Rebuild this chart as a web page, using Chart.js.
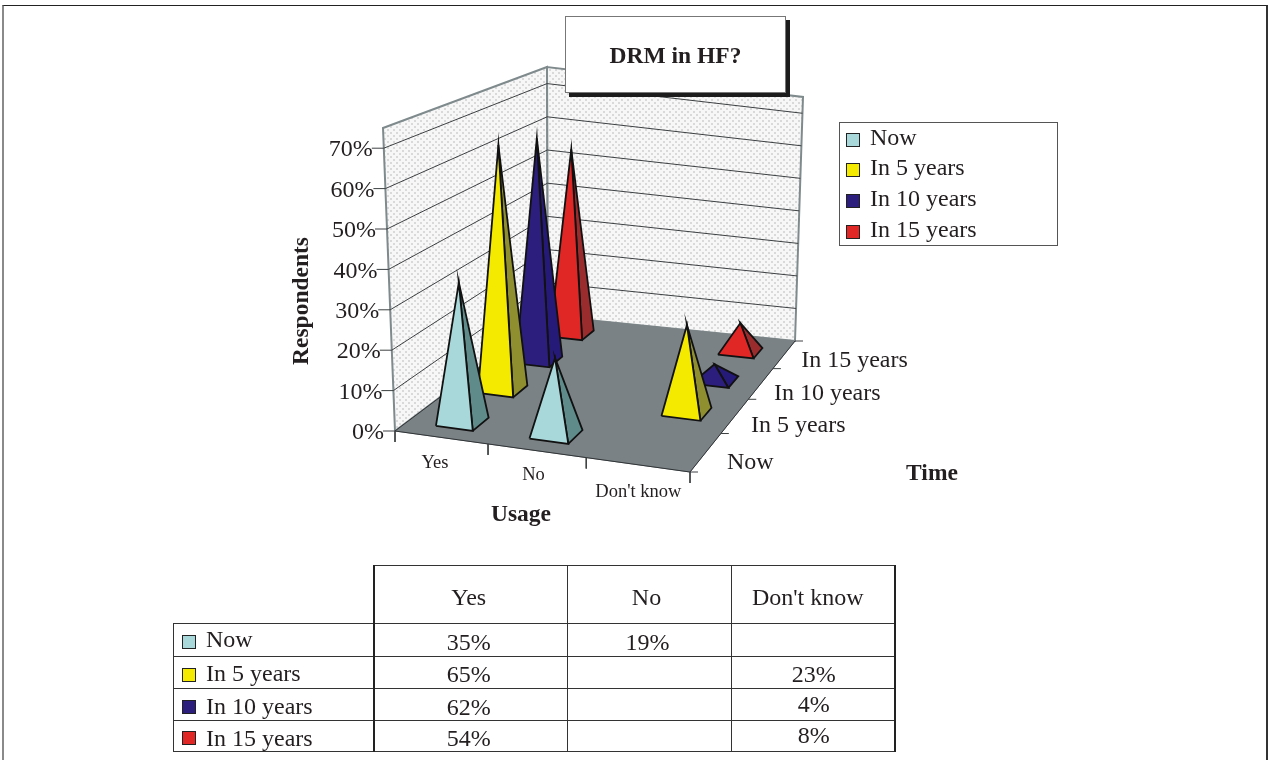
<!DOCTYPE html>
<html>
<head>
<meta charset="utf-8">
<title>DRM in HF?</title>
<script src="https://cdn.jsdelivr.net/npm/chart.js@4"></script>
<style>
html, body { margin: 0; padding: 0; background: #fff; overflow: hidden; }
body { width: 1269px; height: 760px; position: relative; font-family: "Liberation Serif", serif; color: #231f20; }
#graph { position: absolute; left: 0; top: 0; }
#frame { position: absolute; left: 2px; top: 5px; width: 1262px; height: 760px; border-top: 1px solid #222; border-left: 2px solid #8a8a8a; border-right: 2px solid #333; box-sizing: content-box; }
#title { position: absolute; left: 565px; top: 16px; width: 219px; height: 75px; background: #fff; border: 1px solid #777; box-shadow: 4px 4px 0 #1c1c1c; font-weight: bold; font-size: 23.5px; text-align: center; line-height: 77px; }
#legend { position: absolute; left: 839px; top: 122px; width: 217px; height: 122px; background: #fff; border: 1px solid #555; font-size: 24px; }
#legend div { position: absolute; left: 30px; line-height: 26px; white-space: nowrap; }
.swatch { display: inline-block; width: 12px; height: 12px; border: 1.5px solid #222; }
#legend .swatch { position: absolute; left: -24px; top: 9px; }
#values { position: absolute; left: 173px; top: 565px; border-collapse: collapse; table-layout: fixed; font-size: 24px; }
#values td { border: 1px solid #333; padding: 0; text-align: center; line-height: 24px; white-space: nowrap; overflow: hidden; }
#values td span.txt { position: relative; }
#values td.name { text-align: left; padding-left: 8px; }
#values td.name .swatch { margin-right: 10px; vertical-align: -1px; }
#values td.blank { border: none; border-bottom: 1px solid #333; }
#values td.strong { border-left: 2px solid #222; }
#values td.last { border-right: 2px solid #222; }
</style>
</head>
<body>
<canvas id="graph" width="1269" height="760"></canvas>
<div id="frame"></div>
<div id="title">DRM in HF?</div>
<div id="legend"></div>
<table id="values"></table>
<script>
// survey answers, percent of respondents
var usage = ["Yes", "No", "Don't know"];
var time = ["Now", "In 5 years", "In 10 years", "In 15 years"];
var nowValues = [35, 19, null];
var in5Values = [65, null, 23];
var in10Values = [62, null, 4];
var in15Values = [54, null, 8];
var percentTicks = [0, 10, 20, 30, 40, 50, 60, 70];
var frontColors = ["#a9d8da", "#f4ea00", "#2c1e7c", "#e12726"];
var sideColors = ["#5f8b8b", "#8f8f30", "#261a78", "#9a2c2e"];

var allValues = [nowValues, in5Values, in10Values, in15Values];
var topPercent = 75;

// box corners on the page, used by the projection below
var floorCorners = [[395, 431], [690, 472], [795, 341], [548, 316]];
var roofCorners = [[383, 128], [692, 172], [803, 97], [547, 67]];

function quadMap(q) {
    var dx1 = q[1][0] - q[2][0], dx2 = q[3][0] - q[2][0], sx = q[0][0] - q[1][0] + q[2][0] - q[3][0];
    var dy1 = q[1][1] - q[2][1], dy2 = q[3][1] - q[2][1], sy = q[0][1] - q[1][1] + q[2][1] - q[3][1];
    var den = dx1 * dy2 - dx2 * dy1;
    var g = (sx * dy2 - dx2 * sy) / den, h = (dx1 * sy - sx * dy1) / den;
    var a = q[1][0] - q[0][0] + g * q[1][0], b = q[3][0] - q[0][0] + h * q[3][0];
    var d = q[1][1] - q[0][1] + g * q[1][1], e = q[3][1] - q[0][1] + h * q[3][1];
    return function(s, t) {
        var w = g * s + h * t + 1;
        return [(a * s + b * t + q[0][0]) / w, (d * s + e * t + q[0][1]) / w];
    };
}
var floorMap = quadMap(floorCorners);
var roofMap = quadMap(roofCorners);

// u = usage position, v = time position, p = percent
function project(u, v, p) {
    var s = u / usage.length, t = v / time.length, k = p / topPercent;
    var lo = floorMap(s, t), hi = roofMap(s, t);
    return { x: lo[0] + (hi[0] - lo[0]) * k, y: lo[1] + (hi[1] - lo[1]) * k };
}
function shift(pt, dx, dy) {
    return { x: pt.x + dx, y: pt.y + dy };
}

var patternBox = document.createElement("canvas");
patternBox.width = 6;
patternBox.height = 6;
var pctx = patternBox.getContext("2d");
pctx.fillStyle = "#f7f7f7";
pctx.fillRect(0, 0, 6, 6);
pctx.fillStyle = "#d9d9d9";
pctx.fillRect(0, 0, 2, 2);
pctx.fillRect(3, 3, 2, 2);
var wallFill = pctx.createPattern(patternBox, "repeat");

var sets = [];
function poly(points, fill, stroke, width) {
    sets.push({
        data: points,
        showLine: true,
        fill: fill ? "shape" : false,
        backgroundColor: fill || "transparent",
        borderColor: stroke,
        borderWidth: width,
        pointRadius: 0,
        tension: 0
    });
}

var nu = usage.length, nv = time.length;
// walls
poly([project(0, 0, 0), project(0, nv, 0), project(0, nv, topPercent), project(0, 0, topPercent), project(0, 0, 0)], wallFill, "#7f8a8d", 2);
poly([project(0, nv, 0), project(nu, nv, 0), project(nu, nv, topPercent), project(0, nv, topPercent), project(0, nv, 0)], wallFill, "#7f8a8d", 2);
// grid lines on the walls
percentTicks.slice(1).forEach(function(p) {
    poly([project(0, 0, p), project(0, nv, p), project(nu, nv, p)], null, "#3d4042", 1);
});
// floor
poly([project(0, 0, 0), project(nu, 0, 0), project(nu, nv, 0), project(0, nv, 0), project(0, 0, 0)], "#7b8285", "#7b8285", 1);
poly([project(0, nv, 0), project(0, 0, 0), project(nu, 0, 0), project(nu, nv, 0)], null, "#2f3335", 1);
// ticks
percentTicks.forEach(function(p) {
    poly([project(0, 0, p), shift(project(0, 0, p), -12, 0)], null, "#3d4042", 1);
});
for (var ui = 0; ui <= nu; ui++) {
    poly([project(ui, 0, 0), shift(project(ui, 0, 0), 0, 11)], null, "#3d4042", 1);
}
for (var vi = 0; vi <= nv; vi++) {
    poly([project(nu, vi, 0), shift(project(nu, vi, 0), 8, 0)], null, "#3d4042", 1);
}
// pyramids, back row first
var halfU = 0.2, halfV = 0.19;
for (var row = time.length - 1; row >= 0; row--) {
    for (var col = 0; col < usage.length; col++) {
        var val = allValues[row][col];
        if (val === null) continue;
        var cu = col + 0.52, cv = row + 0.45;
        var fl = project(cu - halfU, cv - halfV, 0);
        var fr = project(cu + halfU, cv - halfV, 0);
        var br = project(cu + halfU, cv + halfV, 0);
        var tip = project(cu - 0.02, cv + 0.05, val);
        poly([fr, br, tip, fr], sideColors[row], "#111", 1.8);
        poly([fl, fr, tip, fl], frontColors[row], "#111", 1.8);
    }
}
sets.reverse();

var labelsPlugin = {
    id: "boxLabels",
    beforeDatasetsDraw: function(chart) {
        chart.ctx.miterLimit = 24;
    },
    afterDraw: function(chart) {
        var c = chart.ctx;
        c.save();
        c.fillStyle = "#231f20";
        c.font = "24px 'Liberation Serif'";
        c.textBaseline = "middle";
        c.textAlign = "right";
        percentTicks.forEach(function(p) {
            var pt = project(0, 0, p);
            c.fillText(p + "%", pt.x - 11, pt.y + 2);
        });
        c.textAlign = "left";
        var timeNudge = [[21, 11], [16, 10], [13, 10], [17, 6]];
        time.forEach(function(name, i) {
            var pt = project(nu, i + 0.5, 0);
            c.fillText(name, pt.x + timeNudge[i][0], pt.y + timeNudge[i][1]);
        });
        c.textAlign = "center";
        c.font = "18.5px 'Liberation Serif'";
        var usageNudge = [[-6, 26], [-3, 24], [1, 27]];
        usage.forEach(function(name, i) {
            var pt = project(i + 0.5, 0, 0);
            c.fillText(name, pt.x + usageNudge[i][0], pt.y + usageNudge[i][1]);
        });
        c.font = "bold 23.5px 'Liberation Serif'";
        c.fillText("Usage", 521, 515);
        c.fillText("Time", 932, 474);
        c.translate(302, 301);
        c.rotate(-Math.PI / 2);
        c.fillText("Respondents", 0, 0);
        c.restore();
    }
};

new Chart(document.getElementById("graph"), {
    type: "scatter",
    data: { datasets: sets },
    options: {
        responsive: false,
        animation: false,
        layout: { padding: 0 },
        scales: {
            x: { type: "linear", min: 0, max: 1269, display: false },
            y: { type: "linear", min: 0, max: 760, reverse: true, display: false }
        },
        plugins: {
            legend: { display: false },
            tooltip: { enabled: false }
        }
    },
    plugins: [labelsPlugin]
});

// legend box
var legendBox = document.getElementById("legend");
var legendRows = [1, 31, 62, 93];
time.forEach(function(name, i) {
    var d = document.createElement("div");
    d.style.top = legendRows[i] + "px";
    d.innerHTML = '<span class="swatch" style="background:' + frontColors[i] + '"></span>' + name;
    legendBox.appendChild(d);
});

// data table under the chart
var columnWidths = [200, 194, 164, 163];
var rowHeights = [58, 33, 32, 32, 31];
var headNudge = [-2, -3, -5];
var nameNudge = [-1, 0, 1, 2];
var valueNudge = [2, 1, 2, 2];
var lastNudge = [0, 1, -1, -1];
function txt(s, left, top) {
    return '<span class="txt" style="left:' + left + 'px;top:' + top + 'px">' + s + "</span>";
}
var html = "<colgroup>";
columnWidths.forEach(function(w) { html += '<col style="width:' + w + 'px">'; });
html += "</colgroup><tr style=\"height:" + rowHeights[0] + 'px"><td class="blank"></td>';
usage.forEach(function(name, i) {
    html += '<td class="' + (i === 0 ? "strong" : "") + (i === usage.length - 1 ? " last" : "") + '">' + txt(name, headNudge[i], 2) + "</td>";
});
html += "</tr>";
time.forEach(function(name, r) {
    html += '<tr style="height:' + rowHeights[r + 1] + 'px"><td class="name"><span class="swatch" style="background:' + frontColors[r] + '"></span>' + txt(name, 0, nameNudge[r]) + "</td>";
    usage.forEach(function(u, i) {
        var v = allValues[r][i];
        var last = i === usage.length - 1;
        html += '<td class="' + (i === 0 ? "strong" : "") + (last ? " last" : "") + '">' +
            (v === null ? "" : txt(v + "%", last ? 1 : -2, last ? lastNudge[r] : valueNudge[r])) + "</td>";
    });
    html += "</tr>";
});
document.getElementById("values").innerHTML = html;
</script>
</body>
</html>
